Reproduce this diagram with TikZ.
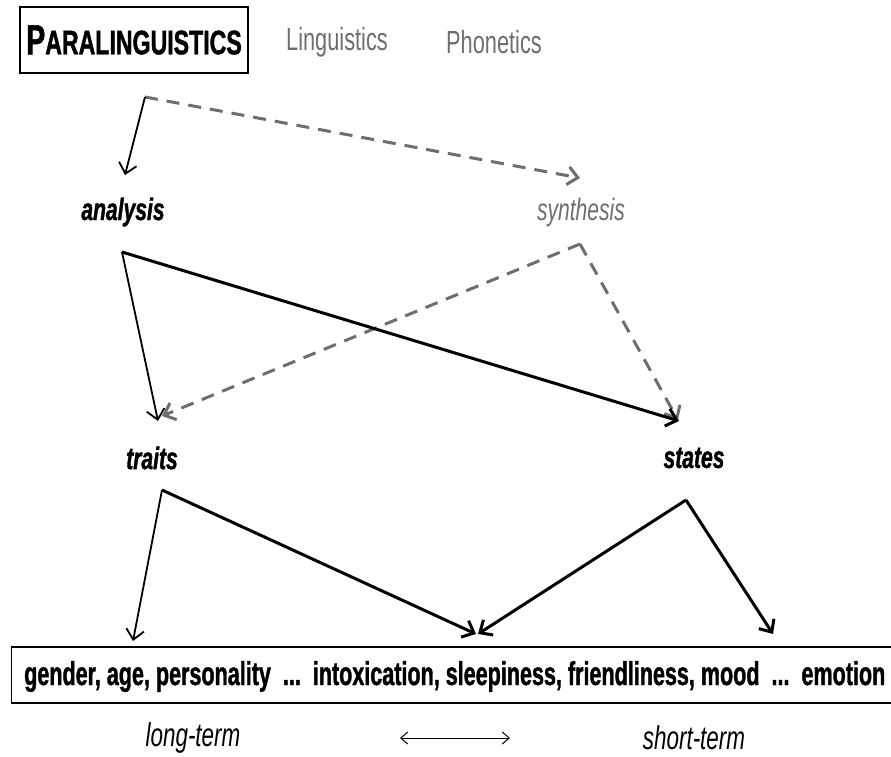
\documentclass[tikz,border=0pt]{standalone}
\usepackage{fontspec}
\setmainfont[FakeStretch=0.68,
  BoldFeatures={FakeBold=1.2},
  BoldItalicFeatures={FakeBold=1.2}]{Liberation Sans}
\usetikzlibrary{arrows.meta}
\definecolor{mutedgray}{HTML}{6E6E6E}
\tikzset{
  lbl/.style={inner sep=0pt, anchor=center},
  tip/.style={-{Straight Barb[length=10pt,width=18pt]}},
  solidthin/.style={draw=black, line width=1.8pt, tip},
  solidthick/.style={draw=black, line width=3pt, tip},
  dashgray/.style={draw=mutedgray, line width=3pt, dash pattern=on 13pt off 9pt, tip},
}
\begin{document}
\begin{tikzpicture}[x=1pt,y=-1pt]
\useasboundingbox (0,0) rectangle (891,757);

% title and neighbouring fields
\node[lbl, draw=black, line width=1.3pt, minimum width=228pt, minimum height=66pt] (para) at (134,40)
  {\fontsize{42}{42}\selectfont\bfseries P\fontsize{34}{34}\selectfont ARALINGUISTICS};
\node[lbl, text=mutedgray] (ling) at (337,42) {\fontsize{32}{32}\selectfont Linguistics};
\node[lbl, text=mutedgray] (phon) at (494,42) {\fontsize{32}{32}\selectfont Phonetics};

% level labels
\node[lbl] (analysis) at (123,212) {\fontsize{31}{31}\selectfont\bfseries\itshape analysis};
\node[lbl, text=mutedgray] (synthesis) at (581,212) {\fontsize{31}{31}\selectfont\itshape synthesis};
\node[lbl] (traits) at (152,458) {\fontsize{31}{31}\selectfont\bfseries\itshape traits};
\node[lbl] (states) at (694,458) {\fontsize{31}{31}\selectfont\bfseries\itshape states};

% attribute continuum: frame running off the right edge, text set to a fixed width
\node[lbl, draw=black, line width=1.3pt, anchor=west, minimum height=56pt, minimum width=900pt] (contbox) at (11,675) {};
\node[lbl, anchor=base west] (cont) at (24,685)
  {\resizebox{861pt}{\height}{\fontsize{33}{33}\selectfont\bfseries gender, age, personality\ \ ...\ \ intoxication, sleepiness, friendliness, mood\ \ ...\ \ emotion}};

\node[lbl] (long) at (193,738) {\fontsize{33}{33}\selectfont\itshape long-term};
\node[lbl] (short) at (694,738) {\fontsize{33}{33}\selectfont\itshape short-term};
\coordinate (dl) at (400,738);
\coordinate (dr) at (510,738);
\draw[line width=1pt, {Straight Barb[length=7pt,width=12pt]}-{Straight Barb[length=7pt,width=12pt]}] (dl) -- (dr);

% branch points and arrow ends
\coordinate (p0) at (145,97);
\coordinate (a0) at (122,252);
\coordinate (s0) at (580,244);
\coordinate (t0) at (162,490);
\coordinate (st0) at (686,500);
\coordinate (aTop) at (125,175);
\coordinate (sTop) at (580,178);
\coordinate (tIn) at (158,421);
\coordinate (tInD) at (162,416);
\coordinate (stIn) at (679,421);
\coordinate (stInD) at (678,420);
\coordinate (cL) at (133,641);
\coordinate (cM) at (476,634);
\coordinate (cM2) at (478,634);
\coordinate (cR) at (773,634);

% connectors
\draw[dashgray] (p0) -- (sTop);
\draw[solidthin] (p0) -- (aTop);

\draw[dashgray] (s0) -- (tInD);
\draw[dashgray] (s0) -- (stInD);
\draw[solidthin] (a0) -- (tIn);
\draw[solidthick] (a0) -- (stIn);

\draw[solidthin] (t0) -- (cL);
\draw[solidthick] (t0) -- (cM);
\draw[solidthick] (st0) -- (cM2);
\draw[solidthick] (st0) -- (cR);
\end{tikzpicture}
\end{document}
